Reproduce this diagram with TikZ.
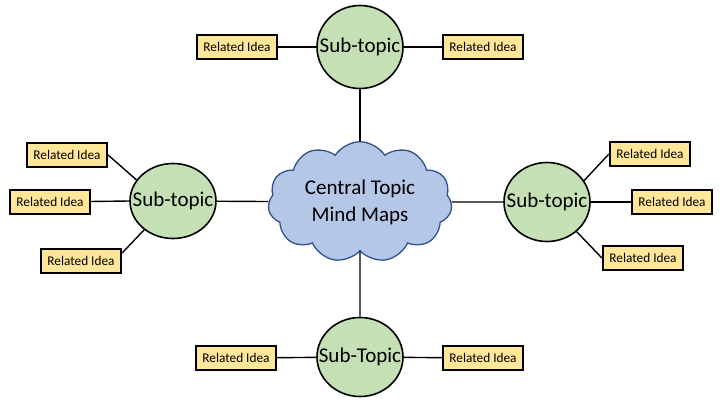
\documentclass[tikz,border=0pt]{standalone}
\usepackage{fontspec}
\setmainfont{Carlito}
\usetikzlibrary{positioning, shapes.geometric, shapes.symbols}
\definecolor{CloudBlue}{RGB}{180,199,231}
\definecolor{CloudEdge}{RGB}{47,82,143}
\definecolor{SubGreen}{RGB}{197,224,180}
\definecolor{IdeaYellow}{RGB}{255,230,153}

\begin{document}
\begin{tikzpicture}[
  x=1pt, y=-1pt,
  every node/.style={align=center},
  subtopic/.style={ellipse, draw, line width=1.6pt, fill=SubGreen, minimum width=86pt,
    minimum height=79pt, inner xsep=-16pt, inner ysep=0pt, font=\fontsize{21}{23}\selectfont},
  idea/.style={draw, line width=2.2pt, fill=IdeaYellow, minimum width=80pt,
    minimum height=24pt, inner sep=0pt, font=\fontsize{13.3}{15}\selectfont},
  link/.style={line width=1.4pt}
  ]

% Page
\fill[white] (0,0) rectangle (720,405);
\useasboundingbox (0,0) rectangle (720,405);

% Central cloud
\node[cloud, cloud puffs=11, cloud puff arc=115, aspect=1.55, draw=CloudEdge, line width=1.3pt,
  fill=CloudBlue, minimum width=184pt, minimum height=119pt, inner sep=0pt,
  font=\fontsize{21}{27}\selectfont] (central) at (360,202) {Central Topic\\Mind Maps};

% Sub-topics
\node[subtopic, minimum height=83pt] (topsub) at (360,47) {Sub-topic};
\node[subtopic, minimum height=75pt] (leftsub) at (173,201) {Sub-topic};
\node[subtopic] (rightsub) at (547,202) {Sub-topic};
\node[subtopic] (botsub) at (360,357) {Sub-Topic};

% Related ideas
\node[idea] (idea-tl) at (237,47) {Related Idea};
\node[idea] (idea-tr) at (483,47) {Related Idea};
\node[idea] (idea-l1) at (67,155) {Related Idea};
\node[idea] (idea-l2) at (50,202) {Related Idea};
\node[idea] (idea-l3) at (81,261) {Related Idea};
\node[idea] (idea-r1) at (650,154) {Related Idea};
\node[idea] (idea-r2) at (672,202) {Related Idea};
\node[idea] (idea-r3) at (643,258) {Related Idea};
\node[idea] (idea-bl) at (236,358) {Related Idea};
\node[idea] (idea-br) at (483,358) {Related Idea};

% Central links
\draw[link] (central) -- (topsub);
\draw[link] (central) -- (leftsub);
\draw[link] (central) -- (rightsub);
\draw[link] (central) -- (botsub);

% Idea links
\draw[link] (idea-tl) -- (topsub);
\draw[link] (idea-tr) -- (topsub);
\draw[link] (idea-l1.east) -- (leftsub.150);
\draw[link] (idea-l2) -- (leftsub.west);
\draw[link] ([yshift=8pt]idea-l3.east) -- (leftsub.225);
\draw[link] (idea-r1.west) -- (rightsub.30);
\draw[link] (idea-r2) -- (rightsub);
\draw[link] (idea-r3.west) -- (rightsub.315);
\draw[link] (idea-bl) -- (botsub);
\draw[link] (idea-br) -- (botsub);
\end{tikzpicture}
\end{document}
